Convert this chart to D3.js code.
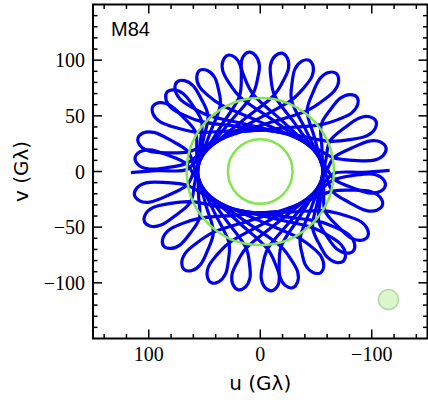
<!DOCTYPE html>
<html><head><meta charset="utf-8">
<script src="https://cdn.jsdelivr.net/npm/d3@7"></script>
<style>body{margin:0;background:#fff}</style>
</head><body>
<svg id="c" width="428" height="400"></svg>
<script>
// ---- data (uv-plane, G-lambda) ----
// loop tips of the baseline track (upper half); the conjugate track (-u,-v) is drawn as well
const petalAngle  = [6.2, 15.3, 31.4, 40.5, 47.1, 59.3, 74.5, 84.6, 100.4, 113.6, 127.6, 142.4, 156.5, 169.4]; // deg, atan2(v,u)
const petalRadius = [113.0, 113.7, 112.7, 109.9, 109.7, 105.8, 108.4, 107.7, 108.1, 109.1, 111.4, 109.5, 113.2, 114.8];
const neckRadius  = [67, 67, 68, 69, 69, 70, 70, 70, 70, 70, 69, 69, 68, 67];   // where each loop crosses itself
const holeSemiAxes = {u: 56, v: 37};     // empty centre, envelope of the straight track segments
const trackStart  = {angle: -0.5, radius: 116, neck: 66};
const circleRadii = [29, 66];            // green reference rings
const beam = {u: -115, v: -115, r: 9};   // beam marker
const xMajor = [100, 0, -100];
const yMajor = [100, 50, 0, -50, -100];
const sourceName = "M84";

const svg = d3.select("#c");
const L = 93, R = 427.5, T = 4.5, B = 338.5;
const x = d3.scaleLinear().domain([150, -150]).range([L, R]);
const y = d3.scaleLinear().domain([-150, 150]).range([B, T]);
const rs = d3.scaleLinear().domain([0, 150]).range([0, x(0) - x(150)]);

svg.append("clipPath").attr("id", "clip").append("rect")
  .attr("x", L).attr("y", T).attr("width", R - L).attr("height", B - T);
const plot = svg.append("g").attr("clip-path", "url(#clip)");

const rad = Math.PI / 180;
const pol = (a, r) => [r * Math.cos(a * rad), r * Math.sin(a * rad)];
const line = d3.line().x(d => x(d[0])).y(d => y(d[1])).curve(d3.curveCatmullRom.alpha(0.5));

// tangent points from p to the hole ellipse (straight track segments)
function tangents(p) {
  const a = holeSemiAxes.u, b = holeSemiAxes.v;
  const px = p[0] / a, py = p[1] / b;
  const m = Math.hypot(px, py), ang = Math.atan2(py, px), d = Math.acos(1 / m);
  return [[a * Math.cos(ang - d), b * Math.sin(ang - d)], [a * Math.cos(ang + d), b * Math.sin(ang + d)]];
}
const mix = (p, q, f) => [p[0] + (q[0] - p[0]) * f, p[1] + (q[1] - p[1]) * f];

function petalPath(a, Rt, rn) {
  const X = pol(a, rn);
  const [tin, tout] = tangents(X);
  const loop = [pol(a + 3.9, rn + 0.38 * (Rt - rn)), pol(a + 4.9, Rt - 12), pol(a + 3.1, Rt - 3.5), pol(a, Rt),
                pol(a - 3.1, Rt - 3.5), pol(a - 4.9, Rt - 12), pol(a - 3.9, rn + 0.38 * (Rt - rn))];
  return [mix(X, tin, 1.12), tin, mix(X, tin, 0.5), X, ...loop, X, mix(X, tout, 0.5), tout, mix(X, tout, 1.12)];
}

const blue = "#0000ee";
[0, 180].forEach(rot => {
  petalAngle.forEach((a, k) => {
    plot.append("path").attr("d", line(petalPath(a + rot, petalRadius[k], neckRadius[k])))
      .attr("fill", "none").attr("stroke", blue).attr("stroke-width", 3.2).attr("stroke-linejoin", "round");
  });
  // track end
  const a0 = trackStart.angle + rot;
  const X = pol(a0 + 2, trackStart.neck);
  const tout = tangents(X)[1];
  const s = [pol(a0, trackStart.radius), pol(a0 + 1, 92), X, mix(X, tout, 0.5), tout, mix(X, tout, 1.12)];
  plot.append("path").attr("d", line(s)).attr("fill", "none").attr("stroke", blue).attr("stroke-width", 3.2);
});

circleRadii.forEach(r => {
  plot.append("circle").attr("cx", x(0)).attr("cy", y(0)).attr("r", rs(r))
    .attr("fill", "none").attr("stroke", "#84e44c").attr("stroke-width", 2.5);
});
plot.append("circle").attr("cx", x(beam.u)).attr("cy", y(beam.v)).attr("r", rs(beam.r))
  .attr("fill", "#dbf5cd").attr("stroke", "#b6d9a3").attr("stroke-width", 1.5);

// axes: ticks inward on all four sides
const ax = svg.append("g").attr("stroke", "#000").attr("stroke-width", 1.5);
const xMinor = d3.range(-140, 141, 20).filter(v => !xMajor.includes(v));
const yMinor = d3.range(-140, 141, 10).filter(v => !yMajor.includes(v));
function xt(v, len) {
  ax.append("line").attr("x1", x(v)).attr("x2", x(v)).attr("y1", B).attr("y2", B - len);
  ax.append("line").attr("x1", x(v)).attr("x2", x(v)).attr("y1", T).attr("y2", T + len);
}
function yt(v, len) {
  ax.append("line").attr("y1", y(v)).attr("y2", y(v)).attr("x1", L).attr("x2", L + len);
  ax.append("line").attr("y1", y(v)).attr("y2", y(v)).attr("x1", R).attr("x2", R - len);
}
xMajor.forEach(v => xt(v, 9)); xMinor.forEach(v => xt(v, 4.5));
yMajor.forEach(v => yt(v, 9)); yMinor.forEach(v => yt(v, 4.5));
svg.append("rect").attr("x", L).attr("y", T).attr("width", R - L).attr("height", B - T)
  .attr("fill", "none").attr("stroke", "#000").attr("stroke-width", 2);

const fmt = v => (v < 0 ? "\u2212" + Math.abs(v) : String(v));
svg.selectAll(".xl").data(xMajor).enter().append("text")
  .attr("x", d => x(d)).attr("y", 361).attr("text-anchor", "middle")
  .style("font-family", "Liberation Serif").style("font-size", "20px").text(fmt);
svg.selectAll(".yl").data(yMajor).enter().append("text")
  .attr("x", 85).attr("y", d => y(d) + 7).attr("text-anchor", "end")
  .style("font-family", "Liberation Serif").style("font-size", "20px").text(fmt);

svg.append("text").attr("x", x(0)).attr("y", 390).attr("text-anchor", "middle")
  .style("font-family", "DejaVu Sans").style("font-size", "20px").text("u (G\u03bb)");
svg.append("text").attr("transform", `translate(28,${y(0)}) rotate(-90)`).attr("text-anchor", "middle")
  .style("font-family", "DejaVu Sans").style("font-size", "20px").text("v (G\u03bb)");
svg.append("text").attr("x", 111).attr("y", 36)
  .style("font-family", "Liberation Sans").style("font-size", "20px").text(sourceName);
</script>
</body></html>
